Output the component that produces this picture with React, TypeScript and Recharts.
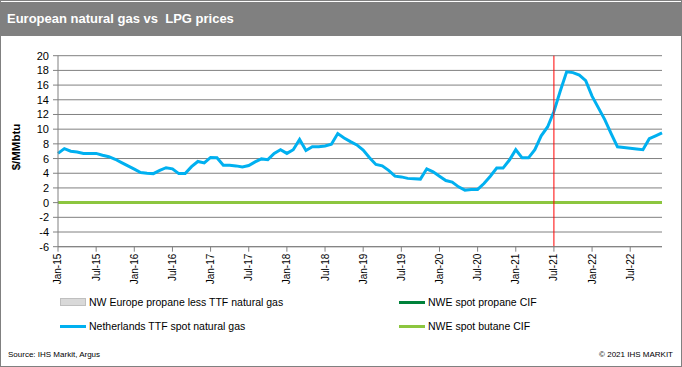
import React from 'react';
import { ComposedChart, Line, Area, XAxis, YAxis, CartesianGrid, ReferenceLine } from 'recharts';

const monthNames = ['Jan', 'Feb', 'Mar', 'Apr', 'May', 'Jun', 'Jul', 'Aug', 'Sep', 'Oct', 'Nov', 'Dec'];
const years = ['15', '16', '17', '18', '19', '20', '21', '22'];
const categories = years.flatMap((y) => monthNames.map((m) => `${m}-${y}`));

const ttfSpot = [
  6.7, 7.35, 7.0, 6.9, 6.7, 6.7, 6.7, 6.45, 6.25, 5.9, 5.45, 5.0,
  4.55, 4.1, 4.0, 3.95, 4.4, 4.75, 4.6, 3.95, 3.95, 4.9, 5.6, 5.4,
  6.15, 6.1, 5.1, 5.1, 5.0, 4.85, 5.05, 5.55, 5.95, 5.85, 6.7, 7.2,
  6.7, 7.2, 8.6, 7.1, 7.6, 7.6, 7.7, 7.95, 9.4, 8.8, 8.3, 7.85,
  7.15, 6.1, 5.2, 5.0, 4.4, 3.6, 3.5, 3.3, 3.25, 3.2, 4.6, 4.2,
  3.6, 3.0, 2.8, 2.15, 1.7, 1.8, 1.8, 2.6, 3.6, 4.7, 4.7, 5.8,
  7.2, 6.1, 6.1, 7.2, 9.1, 10.3, 12.4, 15.2, 17.8, 17.7, 17.35, 16.6,
  14.5, 12.9, 11.3, 9.4, 7.6, 7.5, 7.4, 7.3, 7.2, 8.7, 9.1, 9.5,
];

const propaneCIF = [
  0, 0, 0, 0, 0, 0, 0, 0, 0, 0, 0, 0,
  0, 0, 0, 0, 0, 0, 0, 0, 0, 0, 0, 0,
  0, 0, 0, 0, 0, 0, 0, 0, 0, 0, 0, 0,
  0, 0, 0, 0, 0, 0, 0, 0, 0, 0, 0, 0,
  0, 0, 0, 0, 0, 0, 0, 0, 0, 0, 0, 0,
  0, 0, 0, 0, 0, 0, 0, 0, 0, 0, 0, 0,
  0, 0, 0, 0, 0, 0, 0, 0, 0, 0, 0, 0,
  0, 0, 0, 0, 0, 0, 0, 0, 0, 0, 0, 0,
];

const butaneCIF = [
  0, 0, 0, 0, 0, 0, 0, 0, 0, 0, 0, 0,
  0, 0, 0, 0, 0, 0, 0, 0, 0, 0, 0, 0,
  0, 0, 0, 0, 0, 0, 0, 0, 0, 0, 0, 0,
  0, 0, 0, 0, 0, 0, 0, 0, 0, 0, 0, 0,
  0, 0, 0, 0, 0, 0, 0, 0, 0, 0, 0, 0,
  0, 0, 0, 0, 0, 0, 0, 0, 0, 0, 0, 0,
  0, 0, 0, 0, 0, 0, 0, 0, 0, 0, 0, 0,
  0, 0, 0, 0, 0, 0, 0, 0, 0, 0, 0, 0,
];

const propaneLessTTF = [
  0, 0, 0, 0, 0, 0, 0, 0, 0, 0, 0, 0,
  0, 0, 0, 0, 0, 0, 0, 0, 0, 0, 0, 0,
  0, 0, 0, 0, 0, 0, 0, 0, 0, 0, 0, 0,
  0, 0, 0, 0, 0, 0, 0, 0, 0, 0, 0, 0,
  0, 0, 0, 0, 0, 0, 0, 0, 0, 0, 0, 0,
  0, 0, 0, 0, 0, 0, 0, 0, 0, 0, 0, 0,
  0, 0, 0, 0, 0, 0, 0, 0, 0, 0, 0, 0,
  0, 0, 0, 0, 0, 0, 0, 0, 0, 0, 0, 0,
];

const yTicks = [-6, -4, -2, 0, 2, 4, 6, 8, 10, 12, 14, 16, 18, 20];
const markerMonth = 'Jul-21';

const data = categories.map((month, i) => ({
  month,
  spread: propaneLessTTF[i],
  propane: propaneCIF[i],
  butane: butaneCIF[i],
  ttf: ttfSpot[i],
}));

const FONT = '"Liberation Sans", Arial, sans-serif';

const XTick = (props: any) => {
  const { x, y, payload } = props;
  return (
    <text
      x={x}
      y={y}
      transform={`rotate(-90, ${x}, ${y})`}
      textAnchor="end"
      dy="0.35em"
      fontSize={10}
      fontFamily={FONT}
      fill="#000"
    >
      {payload.value}
    </text>
  );
};

const YTick = (props: any) => {
  const { x, y, payload } = props;
  return (
    <text x={x} y={y} textAnchor="end" dy="0.36em" fontSize={11} fontFamily={FONT} fill="#000">
      {payload.value}
    </text>
  );
};

const legendItems = [
  { label: 'NW Europe propane less TTF natural gas', kind: 'box', color: '#D9D9D9', x: 60, y: 302 },
  { label: 'NWE spot propane CIF', kind: 'line', color: '#00823B', x: 399, y: 302 },
  { label: 'Netherlands TTF spot natural gas', kind: 'line', color: '#00B0F0', x: 60, y: 326 },
  { label: 'NWE spot butane CIF', kind: 'line', color: '#8CC63F', x: 399, y: 326 },
];

export default function App() {
  return (
    <div
      style={{
        position: 'absolute',
        left: 0,
        top: 0,
        width: 682,
        height: 367,
        background: '#fff',
        overflow: 'hidden',
        fontFamily: FONT,
      }}
    >
      <div
        style={{
          position: 'absolute',
          left: 1,
          top: 2,
          width: 680,
          height: 34,
          background: '#808080',
        }}
      />
      <div
        style={{
          position: 'absolute',
          left: 7,
          top: 2,
          height: 34,
          lineHeight: '34px',
          color: '#fff',
          fontSize: 13,
          fontWeight: 'bold',
          whiteSpace: 'pre',
        }}
      >
        European natural gas vs  LPG prices
      </div>

      <div style={{ position: 'absolute', left: 0, top: 0 }}>
        <ComposedChart
          width={682}
          height={290}
          data={data}
          margin={{ top: 55.7, right: 20, bottom: 0, left: 0 }}
        >
          <CartesianGrid horizontal vertical={false} stroke="#808080" strokeWidth={1} />
          <XAxis
            dataKey="month"
            scale="point"
            padding={{ left: 0, right: 0 }}
            interval={5}
            height={43.3}
            tick={<XTick />}
            tickSize={5}
            tickMargin={2}
            axisLine={{ stroke: '#808080' }}
            tickLine={{ stroke: '#808080' }}
          />
          <YAxis
            domain={[-6, 20]}
            ticks={yTicks}
            width={58}
            interval={0}
            tick={<YTick />}
            tickSize={5}
            tickMargin={4}
            axisLine={{ stroke: '#808080' }}
            tickLine={{ stroke: '#808080' }}
          />
          <Area
            dataKey="spread"
            type="linear"
            fill="#D9D9D9"
            stroke="#BFBFBF"
            fillOpacity={1}
            isAnimationActive={false}
          />
          <Line dataKey="propane" type="linear" stroke="#00823B" strokeWidth={3} dot={false} isAnimationActive={false} />
          <Line dataKey="butane" type="linear" stroke="#8CC63F" strokeWidth={3} dot={false} isAnimationActive={false} />
          <Line dataKey="ttf" type="linear" stroke="#00B0F0" strokeWidth={3} dot={false} isAnimationActive={false} />
          <ReferenceLine x={markerMonth} stroke="#FF0000" strokeWidth={1} />
        </ComposedChart>
      </div>

      <div
        style={{
          position: 'absolute',
          left: 15.5,
          top: 146.7,
          transform: 'translate(-50%, -50%) rotate(-90deg)',
          fontSize: 11.5,
          fontWeight: 'bold',
          color: '#000',
          whiteSpace: 'nowrap',
        }}
      >
        $/MMbtu
      </div>

      {legendItems.map((it) => (
        <div
          key={it.label}
          style={{
            position: 'absolute',
            left: it.x,
            top: it.y - 7,
            height: 14,
            display: 'flex',
            alignItems: 'center',
            fontSize: 10.5,
            color: '#000',
            whiteSpace: 'nowrap',
          }}
        >
          {it.kind === 'box' ? (
            <div
              style={{
                width: 24,
                height: 6,
                background: it.color,
                border: '1px solid #BFBFBF',
                marginRight: 3,
              }}
            />
          ) : (
            <div style={{ width: 26, height: 3, background: it.color, marginRight: 3 }} />
          )}
          <span>{it.label}</span>
        </div>
      ))}

      <div style={{ position: 'absolute', left: 8, top: 350, fontSize: 8, color: '#000', whiteSpace: 'nowrap' }}>
        Source: IHS Markit, Argus
      </div>
      <div
        style={{ position: 'absolute', right: 9, top: 350, fontSize: 8, color: '#000', whiteSpace: 'nowrap' }}
      >
        © 2021 IHS MARKIT
      </div>

      <div
        style={{
          position: 'absolute',
          left: 0,
          top: 0,
          width: 682,
          height: 367,
          boxSizing: 'border-box',
          border: '1px solid #808080',
          pointerEvents: 'none',
        }}
      />
    </div>
  );
}
